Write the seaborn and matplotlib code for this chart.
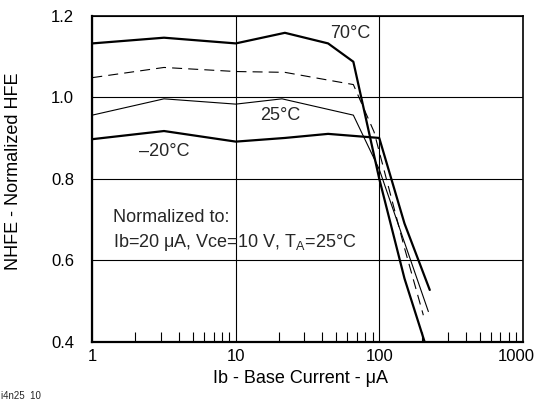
import matplotlib
matplotlib.use("Agg")
import matplotlib.pyplot as plt
import matplotlib.ticker as mticker
import matplotlib.transforms as mtrans
import seaborn as sns
import pandas as pd
import numpy as np

# ---- data ----
x_70 = [1, 3.16, 10, 22, 44, 66, 100, 150, 207]
y_70 = [1.132, 1.146, 1.132, 1.158, 1.132, 1.087, 0.80, 0.555, 0.40]

x_50 = [1, 3.16, 10, 22, 44, 66, 92, 150, 203]
y_50 = [1.048, 1.073, 1.063, 1.061, 1.042, 1.031, 0.915, 0.63, 0.465]

x_25 = [1, 3.16, 10, 21, 66, 100, 220]
y_25 = [0.956, 0.996, 0.983, 0.996, 0.956, 0.823, 0.474]

x_m20 = [1, 3.16, 10, 22, 44, 100, 150, 225]
y_m20 = [0.897, 0.917, 0.891, 0.90, 0.910, 0.90, 0.69, 0.527]

y_ticks = [0.4, 0.6, 0.8, 1.0, 1.2]
x_ticks = [1, 10, 100, 1000]
x_tick_labels = ["1", "10", "100", "1000"]

sns.set_style("white")
plt.rcParams['font.family'] = ['Liberation Sans', 'DejaVu Sans']
plt.rcParams['mathtext.fontset'] = 'custom'
plt.rcParams['mathtext.rm'] = 'Liberation Sans'
plt.rcParams['mathtext.it'] = 'Liberation Sans'

fig = plt.figure(figsize=(5.36, 4.01), dpi=100)
ax = fig.add_axes([92.3/536, 1-341.7/401, 430.4/536, 326/401])

def draw(x, y, lw, ls):
    df = pd.DataFrame({"x": x, "y": y})
    sns.lineplot(data=df, x="x", y="y", ax=ax, color="black", lw=lw,
                 linestyle=ls, sort=False, estimator=None)

draw(x_70, y_70, 1.6, "-")
draw(x_50, y_50, 0.8, (0, (9, 5.5)))
draw(x_25, y_25, 0.8, "-")
draw(x_m20, y_m20, 1.6, "-")

ax.set_xscale("log")
ax.set_xlim(1, 1000)
ax.set_ylim(0.4, 1.2)
ax.set_xticks(x_ticks)
ax.set_xticklabels(x_tick_labels)
ax.xaxis.set_minor_locator(mticker.LogLocator(base=10, subs=np.arange(2, 10)))
ax.xaxis.set_minor_formatter(mticker.NullFormatter())
ax.set_yticks(y_ticks)
ax.set_yticklabels([f"{v:.1f}" for v in y_ticks])

ax.tick_params(axis="x", which="major", length=0, labelsize=12, pad=5, colors="black")
ax.tick_params(axis="x", which="minor", direction="in", length=7, width=0.8,
               color="black", bottom=True)
ax.tick_params(axis="y", which="major", length=0, labelsize=12, pad=13, colors="black")
for lbl in ax.get_yticklabels():
    lbl.set_verticalalignment("center_baseline")

# shift the last x tick label a little left so it stays inside the canvas
last = ax.get_xticklabels()[-1]
last.set_transform(last.get_transform() +
                   mtrans.ScaledTranslation(-6/100, 0, fig.dpi_scale_trans))

ax.grid(True, which="major", axis="both", color="black", lw=0.8)
for s in ax.spines.values():
    s.set_color("black")
ax.spines["left"].set_linewidth(1.6)
ax.spines["bottom"].set_linewidth(1.6)
ax.spines["top"].set_linewidth(1.2)
ax.spines["right"].set_linewidth(1.2)

ax.set_xlabel("Ib - Base Current - μA", fontsize=13, color="black")
ax.set_ylabel("NHFE - Normalized HFE", fontsize=13, color="black")
ax.xaxis.set_label_coords(0.4826, -0.088)
ax.yaxis.set_label_coords(-0.164, 0.524)

def px(xp, yp):
    return (xp / 536, 1 - yp / 401)

fs = 13
fig.text(*px(350, 34), "70°C", fontsize=fs, ha="center", va="center")
fig.text(*px(280, 115), "25°C", fontsize=fs, ha="center", va="center")
fig.text(*px(164, 151), "–20°C", fontsize=fs, ha="center", va="center")
fig.text(*px(113, 217), "Normalized to:", fontsize=fs, ha="left", va="center")
fig.text(*px(113, 242), "Ib=20 μA, Vce=10 V, T$_\\mathrm{A}$=25°C", fontsize=fs,
         ha="left", va="center")
fig.text(*px(1, 396), "i4n25  10", fontsize=7, ha="left", va="center")

fig.savefig("out.png", dpi=100)
